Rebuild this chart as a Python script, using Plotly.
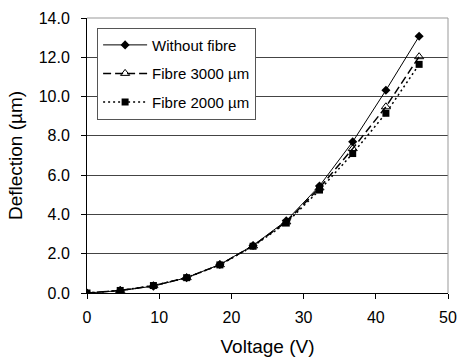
import plotly.graph_objects as go

voltage = [0, 4.6, 9.2, 13.8, 18.4, 23.0, 27.6, 32.2, 36.8, 41.4, 46.0]
without_fibre = [0.0, 0.12, 0.35, 0.78, 1.45, 2.42, 3.68, 5.45, 7.70, 10.32, 13.07]
fibre_3000 = [0.0, 0.13, 0.37, 0.78, 1.44, 2.40, 3.62, 5.35, 7.35, 9.48, 12.03]
fibre_2000 = [0.0, 0.13, 0.38, 0.78, 1.43, 2.38, 3.56, 5.24, 7.10, 9.15, 11.64]

names = ["Without fibre", "Fibre 3000 \u00b5m", "Fibre 2000 \u00b5m"]

fig = go.Figure()
fig.add_trace(go.Scatter(x=voltage, y=without_fibre, name=names[0], mode="lines+markers",
                         legendgroup="a",
                         line=dict(color="black", width=1, dash="solid"),
                         marker=dict(symbol="diamond", size=7, color="black")))
fig.add_trace(go.Scatter(x=voltage, y=fibre_3000, name=names[1], mode="lines+markers",
                         legendgroup="b",
                         line=dict(color="black", width=1.5, dash="8px,4px"),
                         marker=dict(symbol="triangle-up-open", size=8, color="black",
                                     line=dict(width=1))))
fig.add_trace(go.Scatter(x=voltage, y=fibre_2000, name=names[2], mode="lines+markers",
                         legendgroup="c",
                         line=dict(color="black", width=1.5, dash="2px,3px"),
                         marker=dict(symbol="square", size=7, color="black")))

font = "Liberation Sans, Arial, sans-serif"
fig.update_layout(
    width=458, height=361,
    margin=dict(l=87, r=10, t=18, b=68),
    paper_bgcolor="white", plot_bgcolor="white",
    font=dict(family=font, size=16, color="black"),
    showlegend=True,
    legend=dict(x=0.028, y=0.965, xanchor="left", yanchor="top",
                bordercolor="#555", borderwidth=1, bgcolor="white",
                font=dict(size=15, family=font), tracegroupgap=6,
                traceorder="grouped", itemwidth=44),
    xaxis=dict(range=[0, 50], tickvals=[0, 10, 20, 30, 40, 50], automargin=False,
               showgrid=False, zeroline=False, showline=True, linecolor="black",
               linewidth=1, ticks="outside", ticklen=5, tickcolor="black",
               ticklabelstandoff=5,
               title=dict(text="Voltage (V)", standoff=14), tickfont=dict(size=16)),
    yaxis=dict(range=[0, 14], tickvals=[0, 2, 4, 6, 8, 10, 12, 14], tickformat=".1f",
               automargin=False,
               showgrid=True, gridcolor="#444", gridwidth=1, zeroline=False,
               showline=True, linecolor="black", linewidth=1,
               ticks="outside", ticklen=5, tickcolor="black",
               ticklabelstandoff=8,
               title=dict(text="Deflection (\u00b5m)", standoff=11), tickfont=dict(size=16)),
    shapes=[
        dict(type="line", xref="paper", yref="paper", x0=1, x1=1, y0=0, y1=1,
             line=dict(color="#999", width=1)),
        dict(type="line", xref="paper", yref="paper", x0=0, x1=1, y0=1, y1=1,
             line=dict(color="#999", width=1)),
    ],
)

fig.write_html("out.html")
